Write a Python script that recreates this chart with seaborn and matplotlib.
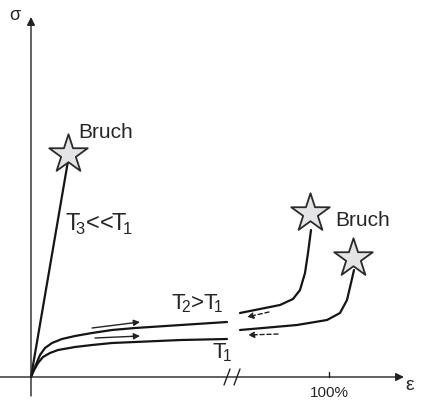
import numpy as np
import pandas as pd
import seaborn as sns
import matplotlib.pyplot as plt

#%% Data (schematic units: strain to the right, stress upwards)
t3_eps = [0, 37]
t3_sig = [0, 216]

t2_left_eps = [0, 4, 9, 14, 21, 31, 44, 61, 81, 104, 150, 196]
t2_left_sig = [0, 10, 22, 29, 34, 38, 41, 44, 47, 49, 52, 55]
t1_left_eps = [0, 2, 7, 12, 19, 27, 44, 61, 81, 104, 150, 196]
t1_left_sig = [0, 5, 14, 20, 24, 27, 30, 32, 34, 35, 37, 38]

t2_right_eps = [209, 229, 249, 262, 269, 274, 277, 280]
t2_right_sig = [64, 68, 72, 78, 87, 104, 124, 147]
t1_right_eps = [209, 232, 266, 296, 309, 316, 320, 323]
t1_right_sig = [47, 49, 52, 57, 64, 77, 94, 107]

star_eps = [37, 279, 322]
star_sig = [223, 164, 119]

#%% Build long table for seaborn
parts = []
for name, e, s in [("T3", t3_eps, t3_sig),
                   ("T2a", t2_left_eps, t2_left_sig),
                   ("T1a", t1_left_eps, t1_left_sig),
                   ("T2b", t2_right_eps, t2_right_sig),
                   ("T1b", t1_right_eps, t1_right_sig)]:
    parts.append(pd.DataFrame({"eps": e, "sig": s, "curve": name}))
df = pd.concat(parts, ignore_index=True)

sns.set_style("white")
plt.rcParams['font.family'] = ['Liberation Sans', 'DejaVu Sans']
plt.rcParams['mathtext.fontset'] = 'custom'
plt.rcParams['mathtext.rm'] = 'Liberation Sans'

fig = plt.figure(figsize=(4.21, 4.09), dpi=100)
ax = fig.add_axes([0, 0, 1, 1])
ax.set_xlim(-31, 390)
ax.set_ylim(-32, 377)
ax.axis("off")

sns.lineplot(data=df, x="eps", y="sig", units="curve", estimator=None,
             sort=False, color="#151515", linewidth=1.6, ax=ax)

sns.scatterplot(x=star_eps, y=star_sig, marker="*", s=850, color="#e4e4e6",
                edgecolor="#2a2a2a", linewidth=1.3, zorder=5, ax=ax)

#%% Axes with arrows
ax.annotate("", xy=(0, 360), xytext=(0, -19),
            arrowprops=dict(arrowstyle="-|>", color="#222222", lw=1.0,
                            mutation_scale=12, shrinkA=0, shrinkB=0))
ax.annotate("", xy=(373, 0), xytext=(-31, 0),
            arrowprops=dict(arrowstyle="-|>", color="#222222", lw=1.0,
                            mutation_scale=12, shrinkA=0, shrinkB=0))
ax.text(-16, 362, "σ", fontsize=13, ha="center", va="center")
ax.text(379, -8, "ε", fontsize=14, ha="center", va="center")

# axis break
for x0 in [193, 203]:
    ax.plot([x0, x0 + 6], [-8, 8], color="#222222", lw=1.0)

# 100% tick
ax.plot([298, 298], [0, 5], color="#222222", lw=1.0)
ax.text(298, -16, "100%", fontsize=11, ha="center", va="center")

#%% Labels
ax.text(47, 244, "Bruch", fontsize=15, ha="left", va="center")
ax.text(304, 157, "Bruch", fontsize=15, ha="left", va="center")
ax.text(34, 153, r"T$\!_3$<<T$\!_1$", fontsize=17, ha="left", va="center")
ax.text(140, 73, r"T$\!_2$>T$\!_1$", fontsize=16, ha="left", va="center")
ax.text(181, 24, r"T$\!_1$", fontsize=16, ha="left", va="center")

#%% Direction arrows
for (x0, y0, x1, y1) in [(61, 49, 109, 55), (64, 39, 109, 41)]:
    ax.annotate("", xy=(x1, y1), xytext=(x0, y0),
                arrowprops=dict(arrowstyle="-|>", color="#222222", lw=1.0,
                                mutation_scale=9, shrinkA=0, shrinkB=0))
for (x0, y0, x1, y1) in [(238, 65, 216, 60), (247, 43, 217, 42)]:
    ax.annotate("", xy=(x1, y1), xytext=(x0, y0),
                arrowprops=dict(arrowstyle="-|>", color="#222222", lw=1.0,
                                linestyle=(0, (3, 2)), mutation_scale=9,
                                shrinkA=0, shrinkB=0))

fig.savefig("out.png", dpi=100)
